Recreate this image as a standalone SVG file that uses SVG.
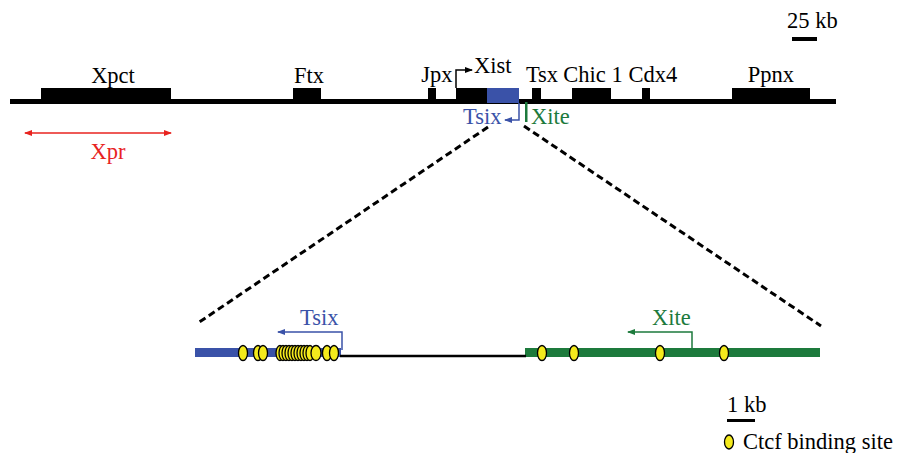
<svg xmlns="http://www.w3.org/2000/svg" width="904" height="453" viewBox="0 0 904 453">
<defs>
<style>
.t{font-family:"Liberation Serif","Times New Roman",serif;font-size:22.5px;fill:#000}
.tb{font-family:"Liberation Serif","Times New Roman",serif;font-size:22.5px;fill:#3a52a8}
.tg{font-family:"Liberation Serif","Times New Roman",serif;font-size:22.5px;fill:#1d7a3c}
.tr{font-family:"Liberation Serif","Times New Roman",serif;font-size:22.5px;fill:#e8231f}
.blk{fill:#000}
.blue{fill:#3a52a8}
.green{fill:#1d7a3c}
.ctcf{fill:#f4ea1c;stroke:#000;stroke-width:1.3}
.dash{stroke:#000;stroke-width:3;stroke-dasharray:7 4;fill:none}
</style>
<marker id="aR" markerWidth="8" markerHeight="6" refX="7" refY="3" orient="auto" markerUnits="userSpaceOnUse"><path d="M0,0 L8,3 L0,6 z" fill="#e8231f"/></marker>
<marker id="aB" markerWidth="8" markerHeight="6" refX="7" refY="3" orient="auto" markerUnits="userSpaceOnUse"><path d="M0,0 L8,3 L0,6 z" fill="#3a52a8"/></marker>
<marker id="aG" markerWidth="8" markerHeight="6" refX="7" refY="3" orient="auto" markerUnits="userSpaceOnUse"><path d="M0,0 L8,3 L0,6 z" fill="#1d7a3c"/></marker>
<marker id="aK" markerWidth="8" markerHeight="6" refX="7" refY="3" orient="auto" markerUnits="userSpaceOnUse"><path d="M0,0 L8,3 L0,6 z" fill="#000"/></marker>
</defs>
<rect width="904" height="453" fill="#fff"/>

<g id="scale25">
<text class="t" x="787" y="28">25 kb</text>
<rect x="792" y="37" width="25" height="4" class="blk"/>
</g>

<g id="chromosome">
<rect x="10" y="99" width="826" height="5" class="blk"/>
</g>

<g id="Xpct"><rect x="41" y="88" width="130" height="15" class="blk"/><text class="t" x="113" y="83" text-anchor="middle">Xpct</text></g>
<g id="Ftx"><rect x="293" y="88" width="28" height="15" class="blk"/><text class="t" x="309" y="83" text-anchor="middle">Ftx</text></g>
<g id="Jpx"><rect x="428" y="88" width="8" height="15" class="blk"/><text class="t" x="437" y="82" text-anchor="middle">Jpx</text></g>
<g id="Xist"><rect x="456" y="88" width="31" height="15" class="blk"/><text class="t" x="474" y="73">Xist</text></g>
<g id="TsixTop"><rect x="487" y="88" width="32" height="15" class="blue"/><text class="tb" x="463" y="124">Tsix</text></g>
<g id="XiteTop"><rect x="525" y="102" width="2.5" height="20" class="green"/><text class="tg" x="531" y="124">Xite</text></g>
<g id="Tsx"><rect x="532" y="88" width="9" height="15" class="blk"/><text class="t" x="542" y="82" text-anchor="middle">Tsx</text></g>
<g id="Chic1"><rect x="572" y="88" width="39" height="15" class="blk"/><text class="t" x="593" y="82" text-anchor="middle">Chic 1</text></g>
<g id="Cdx4"><rect x="642" y="88" width="8" height="15" class="blk"/><text class="t" x="653" y="82" text-anchor="middle">Cdx4</text></g>
<g id="Ppnx"><rect x="732" y="88" width="78" height="15" class="blk"/><text class="t" x="771" y="82" text-anchor="middle">Ppnx</text></g>
<g id="Xpr"><text class="tr" x="108" y="159" text-anchor="middle">Xpr</text></g>

<g id="bottomTsix">
<rect x="195" y="348" width="146" height="9" class="blue"/>
<text class="tb" x="300" y="325">Tsix</text>
</g>
<g id="bottomXite">
<rect x="525" y="348" width="295" height="9" class="green"/>
<text class="tg" x="652" y="325">Xite</text>
</g>

<g id="connectors">
<path d="M456,88 V70 H472" stroke="#000" stroke-width="1.5" fill="none" marker-end="url(#aK)"/>
<path d="M519,103 V120 H505" stroke="#3a52a8" stroke-width="1.5" fill="none" marker-end="url(#aB)"/>
<path d="M100,133 H171" stroke="#e8231f" stroke-width="1.5" fill="none" marker-end="url(#aR)"/>
<path d="M100,133 H25" stroke="#e8231f" stroke-width="1.5" fill="none" marker-end="url(#aR)"/>
<line x1="488" y1="127" x2="198" y2="323" class="dash"/>
<line x1="524" y1="126" x2="821" y2="326" class="dash"/>
<line x1="340" y1="356" x2="526" y2="356" stroke="#000" stroke-width="2.5"/>
<path d="M342,350 V332 H278" stroke="#3a52a8" stroke-width="1.5" fill="none" marker-end="url(#aB)"/>
<path d="M692,348 V332 H628" stroke="#1d7a3c" stroke-width="1.5" fill="none" marker-end="url(#aG)"/>
</g>

<g id="ctcfSites">
<ellipse class="ctcf" cx="243" cy="353" rx="4.5" ry="7.5"/>
<ellipse class="ctcf" cx="258" cy="353" rx="4.5" ry="7.5"/>
<ellipse class="ctcf" cx="263" cy="353" rx="4.5" ry="7.5"/>
<ellipse class="ctcf" cx="280" cy="353" rx="4" ry="7.5"/>
<ellipse class="ctcf" cx="283" cy="353" rx="4" ry="7.5"/>
<ellipse class="ctcf" cx="286" cy="353" rx="4" ry="7.5"/>
<ellipse class="ctcf" cx="289" cy="353" rx="4" ry="7.5"/>
<ellipse class="ctcf" cx="292" cy="353" rx="4" ry="7.5"/>
<ellipse class="ctcf" cx="295" cy="353" rx="4" ry="7.5"/>
<ellipse class="ctcf" cx="298" cy="353" rx="4" ry="7.5"/>
<ellipse class="ctcf" cx="301" cy="353" rx="4" ry="7.5"/>
<ellipse class="ctcf" cx="304" cy="353" rx="4" ry="7.5"/>
<ellipse class="ctcf" cx="307" cy="353" rx="4" ry="7.5"/>
<ellipse class="ctcf" cx="310" cy="353" rx="4" ry="7.5"/>
<ellipse class="ctcf" cx="316" cy="353" rx="5" ry="7.5"/>
<ellipse class="ctcf" cx="327" cy="353" rx="4.5" ry="7.5"/>
<ellipse class="ctcf" cx="334" cy="353" rx="4.5" ry="7.5"/>
<ellipse class="ctcf" cx="542" cy="353" rx="4.5" ry="7.5"/>
<ellipse class="ctcf" cx="574" cy="353" rx="4.5" ry="7.5"/>
<ellipse class="ctcf" cx="660" cy="353" rx="4.5" ry="7.5"/>
<ellipse class="ctcf" cx="724" cy="353" rx="4.5" ry="7.5"/>
</g>

<g id="scale1">
<text class="t" x="727" y="412">1 kb</text>
<rect x="727" y="419" width="28" height="3" class="blk"/>
</g>
<g id="legend">
<ellipse class="ctcf" cx="729" cy="442" rx="4.5" ry="7"/>
<text class="t" x="743" y="449">Ctcf binding site</text>
</g>
</svg>
